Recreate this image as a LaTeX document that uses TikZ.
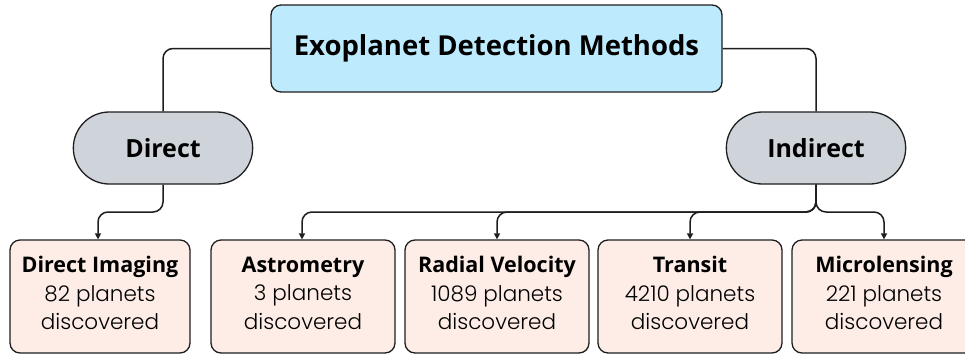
\documentclass[tikz,border=0pt]{standalone}
\usepackage{fontspec}
\setmainfont{Poppins Light}
\newfontfamily\headfont{Open Sans}
\usetikzlibrary{shapes.misc,arrows.meta}
\definecolor{titlefill}{RGB}{190,234,253}
\definecolor{pillfill}{RGB}{207,212,219}
\definecolor{boxfill}{RGB}{253,237,230}
\definecolor{linec}{RGB}{30,30,30}
\tikzset{
  titlebox/.style={draw=linec, line width=1.3pt, fill=titlefill, rounded corners=10pt,
    minimum width=451pt, minimum height=87pt, font=\headfont\bfseries\fontsize{27.5}{32}\selectfont},
  pill/.style={draw=linec, line width=1.3pt, fill=pillfill, rounded rectangle,
    minimum width=186pt, minimum height=72pt, font=\headfont\bfseries\fontsize{25}{30}\selectfont},
  leaf/.style={draw=linec, line width=1.3pt, fill=boxfill, rounded corners=10pt,
    minimum width=184pt, minimum height=113pt, align=center,
    font=\fontsize{21.5}{28.5}\selectfont},
  leaftext/.style={align=center, font=\fontsize{21.5}{28.5}\selectfont},
  conn/.style={draw=linec, line width=1.5pt, rounded corners=10pt},
  arr/.style={conn, -{Triangle[length=6pt,width=6pt]}},
}
\newcommand{\hd}[1]{{\headfont\bfseries\fontsize{21.5}{28.5}\selectfont #1}}
\begin{document}
\begin{tikzpicture}[x=1pt,y=-1pt]
\useasboundingbox (0,0) rectangle (965,354);
\clip (0,0) rectangle (965,354);
\fill[white] (0,0) rectangle (965,354);
\node[titlebox] (title) at (496.5,48.5) {Exoplanet Detection Methods};
\node[pill] (dir) at (163,148) {Direct};
\node[pill] (ind) at (816,148) {Indirect};
\node[leaf, minimum width=180pt] (di) at (100,296.5) {};
\node[leaf] (ast) at (303,296.5) {};
\node[leaf] (rv) at (497,296.5) {};
\node[leaf] (tr) at (690,296.5) {};
\node[leaf] (mi) at (884,296.5) {};
\node[leaftext] (dit) at (100,293) {\hd{Direct Imaging}\\82 planets\\discovered};
\node[leaftext] (astt) at (303,293) {\hd{Astrometry}\\3 planets\\discovered};
\node[leaftext] (rvt) at (497,293) {\hd{Radial Velocity}\\1089 planets\\discovered};
\node[leaftext] (trt) at (690,293) {\hd{Transit}\\4210 planets\\discovered};
\node[leaftext] (mit) at (884,293) {\hd{Microlensing}\\221 planets\\discovered};
\draw[conn] (title.west) -| (dir.north);
\draw[conn] (title.east) -| (ind.north);
\coordinate (jd) at (0,212);
\draw[arr] (dir.south) |- ([xshift=-2pt]di.north |- jd) -- ([xshift=-2pt]di.north);
\draw[arr] (ind.south) |- ([xshift=-1pt]ast.north |- jd) -- ([xshift=-1pt]ast.north);
\draw[arr] (ind.south) |- (rv.north |- jd) -- (rv.north);
\draw[arr] (ind.south) |- (tr.north |- jd) -- (tr.north);
\draw[arr] (ind.south) |- (mi.north |- jd) -- (mi.north);
\end{tikzpicture}
\end{document}
